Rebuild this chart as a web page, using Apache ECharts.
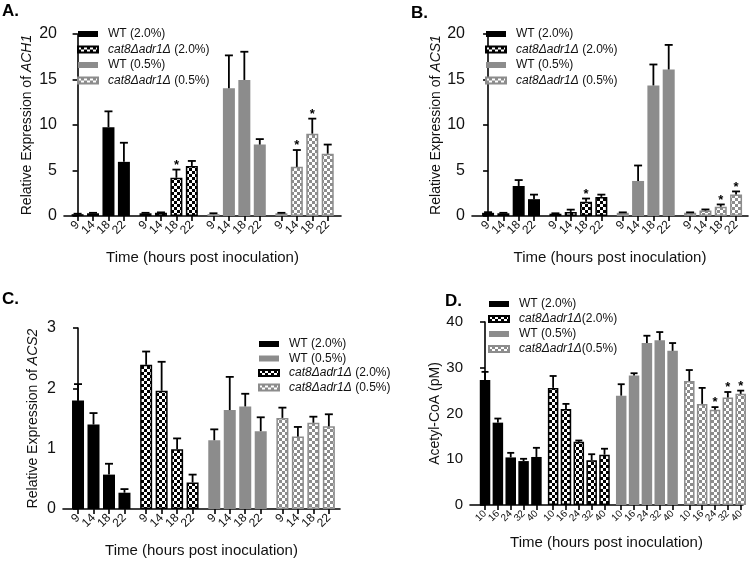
<!DOCTYPE html>
<html><head><meta charset="utf-8">
<script src="https://cdn.jsdelivr.net/npm/echarts@6/dist/echarts.min.js"></script>
<style>html,body{margin:0;padding:0;background:#fff}#c{width:750px;height:562px}</style>
</head><body><div id="c"></div>
<script>
// ---------- data ----------
const timesABC = ['9', '14', '18', '22'];
const timesD = ['10', '16', '24', '32', '40'];

const namesABC = ['WT (2.0%)', 'cat8Δadr1Δ (2.0%)', 'WT (0.5%)', 'cat8Δadr1Δ (0.5%)'];
const namesD = ['WT (2.0%)', 'cat8Δadr1Δ(2.0%)', 'WT (0.5%)', 'cat8Δadr1Δ(0.5%)'];

// Panel A: ACH1
const achWT20 = [0.2, 0.3, 9.75, 5.95];
const achWT20Err = [0.05, 0.05, 1.75, 2.1];
const achCat20 = [0.3, 0.35, 4.2, 5.5];
const achCat20Err = [0.05, 0.05, 0.9, 0.55];
const achWT05 = [0.2, 14.05, 14.95, 7.85];
const achWT05Err = [0.1, 3.6, 3.1, 0.6];
const achCat05 = [0.3, 5.4, 9.05, 6.85];
const achCat05Err = [0.05, 1.85, 1.65, 1.0];
const achStars = [[0,0,0,0],[0,0,1,0],[0,0,0,0],[0,1,1,0]];

// Panel B: ACS1
const acs1WT20 = [0.35, 0.3, 3.3, 1.85];
const acs1WT20Err = [0.07, 0.05, 0.65, 0.5];
const acs1Cat20 = [0.25, 0.45, 1.57, 2.1];
const acs1Cat20Err = [0.05, 0.25, 0.35, 0.25];
const acs1WT05 = [0.35, 3.85, 14.35, 16.1];
const acs1WT05Err = [0.05, 1.7, 2.3, 2.7];
const acs1Cat05 = [0.35, 0.6, 1.02, 2.35];
const acs1Cat05Err = [0.05, 0.12, 0.25, 0.35];
const acs1Stars = [[0,0,0,0],[0,0,1,0],[0,0,0,0],[0,0,1,1]];

// Panel C: ACS2
const acs2WT20 = [1.80, 1.40, 0.57, 0.27];
const acs2WT20Err = [0.27, 0.19, 0.18, 0.06];
const acs2Cat20 = [2.39, 1.96, 0.99, 0.44];
const acs2Cat20Err = [0.22, 0.48, 0.18, 0.13];
const acs2WT05 = [1.14, 1.64, 1.70, 1.29];
const acs2WT05Err = [0.18, 0.55, 0.21, 0.23];
const acs2Cat05 = [1.51, 1.20, 1.43, 1.37];
const acs2Cat05Err = [0.17, 0.16, 0.10, 0.20];
const acs2Stars = [[0,0,0,0],[0,0,0,0],[0,0,0,0],[0,0,0,0]];

// Panel D: Acetyl-CoA (pM)
const coaWT20 = [27.3, 18.0, 10.4, 9.6, 10.5];
const coaWT20Err = [1.8, 0.9, 1.0, 0.5, 2.0];
const coaCat20 = [25.6, 21.0, 13.8, 9.8, 11.0];
const coaCat20Err = [2.6, 1.1, 0.3, 1.3, 1.3];
const coaWT05 = [23.9, 28.3, 35.4, 36.0, 33.7];
const coaWT05Err = [2.5, 0.5, 1.6, 1.8, 1.7];
const coaCat05 = [27.1, 22.1, 20.8, 23.5, 24.3];
const coaCat05Err = [2.4, 3.5, 0.6, 1.2, 0.7];
const coaStars = [[0,0,0,0,0],[0,0,0,0,0],[0,0,0,0,0],[0,0,1,1,1]];

// ---------- styles ----------
const FONT = 'Liberation Sans, Arial, sans-serif';
const TXT = '#111';
const GRAY = '#8c8c8c';
function checker(c1, c2, s) {
  const cv = document.createElement('canvas');
  cv.width = cv.height = 2 * s;
  const ctx = cv.getContext('2d');
  ctx.fillStyle = c1; ctx.fillRect(0, 0, 2 * s, 2 * s);
  ctx.fillStyle = c2; ctx.fillRect(0, 0, s, s); ctx.fillRect(s, s, s, s);
  return { image: cv, repeat: 'repeat' };
}
const styleSets = {
  'WT (2.0%)': { color: '#000' },
  'WT (0.5%)': { color: GRAY },
  'black-check': { color: checker('#000', '#fff', 3), borderColor: '#000', borderWidth: 1.5 },
  'gray-check': { color: checker(GRAY, '#fff', 3), borderColor: GRAY, borderWidth: 1.5 }
};
function styleFor(name) {
  if (name.indexOf('cat8') === 0) return name.indexOf('2.0') > 0 ? styleSets['black-check'] : styleSets['gray-check'];
  return styleSets[name];
}

// ---------- panels ----------
const panels = [
  { times: timesABC, names: namesABC, groupStep: 4.4, xmin: -0.88, xmax: 17.06,
    grid: { left: 64, top: 34, width: 277, height: 182 }, ymax: 20, yint: 5,
    vals: [achWT20, achCat20, achWT05, achCat05], errs: [achWT20Err, achCat20Err, achWT05Err, achCat05Err], stars: achStars,
    yname: '{t|Relative Expression of }{i|ACH1}', ynameGap: 30, xnameGap: 34, barW: 12, cap: 4, labSize: 12, ylabSize: 16,
    legend: { left: 77, top: 28, gap: 3.5, order: namesABC } },
  { times: timesABC, names: namesABC, groupStep: 4.4, xmin: -1.05, xmax: 16.98,
    grid: { left: 472, top: 34, width: 276, height: 182 }, ymax: 20, yint: 5,
    vals: [acs1WT20, acs1Cat20, acs1WT05, acs1Cat05], errs: [acs1WT20Err, acs1Cat20Err, acs1WT05Err, acs1Cat05Err], stars: acs1Stars,
    yname: '{t|Relative Expression of }{i|ACS1}', ynameGap: 28, xnameGap: 34, barW: 12, cap: 4, labSize: 12, ylabSize: 16,
    legend: { left: 485, top: 28, gap: 3.5, order: namesABC } },
  { times: timesABC, names: namesABC, groupStep: 4.4, xmin: -0.97, xmax: 16.92,
    grid: { left: 63, top: 328, width: 277, height: 181 }, ymax: 3, yint: 1,
    vals: [acs2WT20, acs2Cat20, acs2WT05, acs2Cat05], errs: [acs2WT20Err, acs2Cat20Err, acs2WT05Err, acs2Cat05Err], stars: acs2Stars,
    yname: '{t|Relative Expression of }{i|ACS2}', ynameGap: 23, xnameGap: 34, barW: 12, cap: 4, labSize: 12, ylabSize: 16,
    legend: { left: 258, top: 338, gap: 2.5, order: ['WT (2.0%)', 'WT (0.5%)', 'cat8Δadr1Δ (2.0%)', 'cat8Δadr1Δ (0.5%)'] } },
  { times: timesD, names: namesD, groupStep: 5.3, xmin: -1.17, xmax: 20.08,
    grid: { left: 470, top: 322, width: 273, height: 183 }, ymax: 40, yint: 10,
    vals: [coaWT20, coaCat20, coaWT05, coaCat05], errs: [coaWT20Err, coaCat20Err, coaWT05Err, coaCat05Err], stars: coaStars,
    yname: '{t|Acetyl-CoA (pM)}', ynameGap: 19, xnameGap: 30, barW: 10.5, cap: 3.5, labSize: 10, ylabSize: 15,
    legend: { left: 488, top: 298, gap: 3, order: namesD } }
];

const grids = [], xAxes = [], yAxes = [], series = [], legends = [];
panels.forEach((P, p) => {
  grids.push(Object.assign({ containLabel: false }, P.grid));
  const pos = [], labs = [];
  P.vals.forEach((arr, g) => arr.forEach((v, i) => { pos.push(+(g * P.groupStep + i).toFixed(3)); labs.push(P.times[i]); }));
  const labPos = [P.xmin].concat(pos, [P.xmax]);
  xAxes.push({
    type: 'value', gridIndex: p, min: P.xmin, max: P.xmax,
    name: 'Time (hours post inoculation)', nameLocation: 'middle', nameGap: P.xnameGap,
    nameTextStyle: { fontFamily: FONT, fontSize: 15, color: TXT },
    axisLine: { show: true, onZero: false, lineStyle: { color: '#000', width: 1.6 } },
    axisTick: { show: true, length: 5, customValues: pos, lineStyle: { color: '#000', width: 1.6 } },
    axisLabel: { customValues: labPos, rotate: 45, margin: 7, fontFamily: FONT, fontSize: P.labSize, color: TXT,
      showMinLabel: false, showMaxLabel: false, hideOverlap: false,
      formatter: v => { const k = pos.findIndex(q => Math.abs(q - v) < 1e-3); return k >= 0 ? labs[k] : ''; } },
    splitLine: { show: false }
  });
  yAxes.push({
    type: 'value', gridIndex: p, min: 0, max: P.ymax, interval: P.yint,
    name: P.yname, nameLocation: 'middle', nameGap: P.ynameGap,
    nameTextStyle: { fontFamily: FONT, fontSize: 14, color: TXT, fontStyle: 'normal',
      rich: { t: { fontFamily: FONT, fontSize: 14, color: TXT, fontStyle: 'normal' }, i: { fontFamily: FONT, fontSize: 14, color: TXT, fontStyle: 'italic' } } },
    axisLine: { show: true, lineStyle: { color: '#000', width: 1.6 } },
    axisTick: { show: true, length: 5, lineStyle: { color: '#000', width: 1.6 } },
    axisLabel: { margin: 7, fontFamily: FONT, fontSize: P.ylabSize, color: TXT },
    splitLine: { show: false }
  });
  P.vals.forEach((arr, g) => {
    const name = P.names[g];
    const st = styleFor(name);
    series.push({
      type: 'bar', name: name, xAxisIndex: p, yAxisIndex: p, barWidth: P.barW, barGap: '-100%',
      itemStyle: Object.assign({}, st), silent: true, animation: false,
      data: arr.map((v, i) => [g * P.groupStep + i, v])
    });
    const cap = P.cap;
    series.push({
      type: 'custom', xAxisIndex: p, yAxisIndex: p, z: 5, silent: true, animation: false,
      encode: { x: 0, y: [1, 2] },
      data: arr.map((v, i) => [g * P.groupStep + i, v, v + P.errs[g][i], P.stars[g][i]]),
      renderItem: (params, api) => {
        const a = api.coord([api.value(0), api.value(1)]);
        const b = api.coord([api.value(0), api.value(2)]);
        const ls = { stroke: '#000', lineWidth: 1.8 };
        const ch = [
          { type: 'line', shape: { x1: a[0], y1: a[1], x2: b[0], y2: b[1] }, style: ls },
          { type: 'line', shape: { x1: b[0] - cap, y1: b[1], x2: b[0] + cap, y2: b[1] }, style: ls }
        ];
        if (api.value(3)) ch.push({ type: 'text', x: b[0], y: b[1] - 11,
          style: { text: '*', fill: '#000', font: 'bold 13px ' + FONT, align: 'center', verticalAlign: 'top' } });
        return { type: 'group', children: ch };
      }
    });
  });
  legends.push({
    left: P.legend.left, top: P.legend.top, padding: 0, orient: 'vertical', itemWidth: 20, itemHeight: 6, itemGap: P.legend.gap,
    selectedMode: false, data: P.legend.order, icon: 'rect',
    textStyle: { fontFamily: FONT, fontSize: 12, color: TXT, padding: [0, 0, 0, 5],
      rich: { i: { fontFamily: FONT, fontSize: 12, color: TXT, fontStyle: 'italic' } } },
    formatter: n => n.indexOf('cat8Δadr1Δ') === 0 ? '{i|cat8Δadr1Δ}' + n.slice('cat8Δadr1Δ'.length) : n
  });
});

const titles = [['A.', 2, 3], ['B.', 411, 5], ['C.', 2, 291], ['D.', 445, 293]].map(t => ({
  text: t[0], left: t[1], top: t[2], padding: 0,
  textStyle: { fontFamily: FONT, fontSize: 17, fontWeight: 'bold', color: '#000' }
}));

const chart = echarts.init(document.getElementById('c'), null, { renderer: 'canvas' });
chart.setOption({
  animation: false, backgroundColor: '#fff',
  title: titles, grid: grids, xAxis: xAxes, yAxis: yAxes, legend: legends, series: series
});
</script></body></html>
